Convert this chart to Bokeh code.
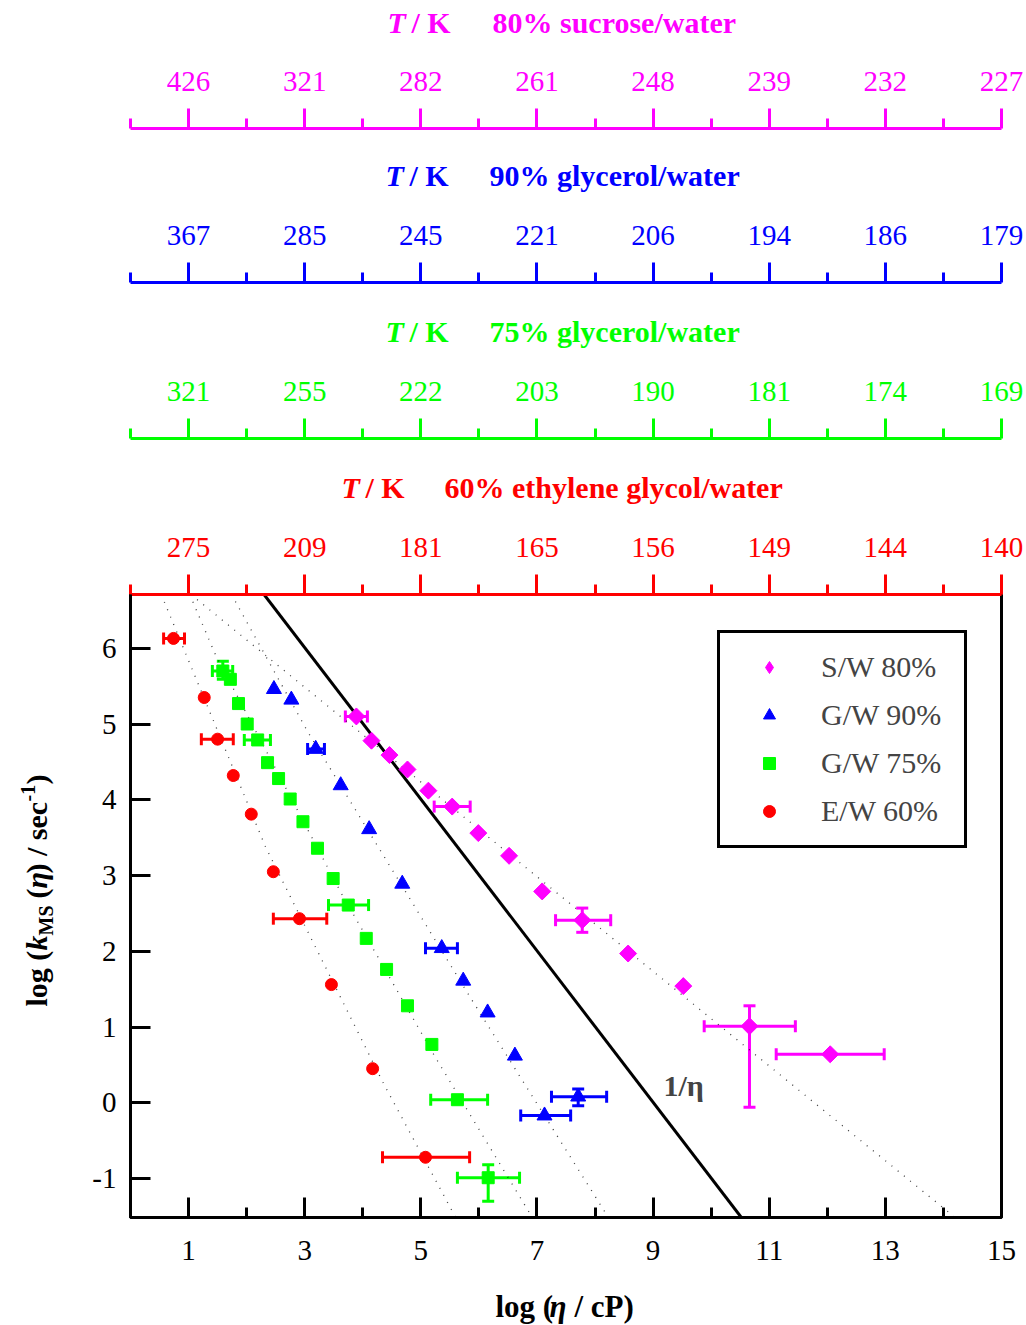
import numpy as np
from bokeh.plotting import figure
from bokeh.models import (Range1d, LinearAxis, FixedTicker, Whisker, TeeHead,
                          ColumnDataSource, Label, Legend, LegendItem)
from bokeh.layouts import column, row
from bokeh.embed import file_html
from bokeh.resources import INLINE

FONT = "Liberation Serif"
MAGENTA, BLUE, GREEN, RED = "#FF00FF", "#0000FF", "#00FF00", "#FF0000"

# ---------------- data ----------------
x_major = [1, 3, 5, 7, 9, 11, 13, 15]
x_minor = [0, 2, 4, 6, 8, 10, 12, 14]
y_major = [-1, 0, 1, 2, 3, 4, 5, 6]

t_sucrose80 = ["426", "321", "282", "261", "248", "239", "232", "227"]
t_glycerol90 = ["367", "285", "245", "221", "206", "194", "186", "179"]
t_glycerol75 = ["321", "255", "222", "203", "190", "181", "174", "169"]
t_ethylene60 = ["275", "209", "181", "165", "156", "149", "144", "140"]

# S/W 80%
sw_x = [3.89, 4.15, 4.46, 4.77, 5.13, 5.54, 5.99, 6.52, 7.09, 7.78, 8.57, 9.52, 10.66, 12.05]
sw_y = [5.10, 4.78, 4.59, 4.40, 4.12, 3.91, 3.56, 3.26, 2.79, 2.41, 1.97, 1.54, 1.01, 0.64]
sw_xerr_i = [0, 5, 9, 12, 13]
sw_xerr_lo = [3.70, 5.23, 7.32, 9.88, 11.12]
sw_xerr_hi = [4.08, 5.85, 8.27, 11.45, 12.98]
sw_yerr_i = [9, 12]
sw_yerr_lo = [2.25, -0.06]
sw_yerr_hi = [2.57, 1.28]

# G/W 90%
gw90_x = [2.47, 2.77, 3.19, 3.62, 4.11, 4.68, 5.36, 5.73, 6.15, 6.62, 7.71, 7.13]
gw90_y = [5.46, 5.32, 4.67, 4.19, 3.61, 2.89, 2.04, 1.61, 1.19, 0.62, 0.08, -0.17]
gw90_xerr_i = [2, 6, 10, 11]
gw90_xerr_lo = [3.05, 5.08, 7.25, 6.72]
gw90_xerr_hi = [3.34, 5.63, 8.20, 7.58]
gw90_yerr_i = [10]
gw90_yerr_lo = [-0.04]
gw90_yerr_hi = [0.18]

# G/W 75%
gw75_x = [1.59, 1.72, 1.86, 2.01, 2.19, 2.36, 2.55, 2.75, 2.97, 3.22, 3.49, 3.75, 4.06, 4.41, 4.77, 5.19, 5.63, 6.16]
gw75_y = [5.70, 5.59, 5.27, 5.00, 4.79, 4.49, 4.28, 4.01, 3.71, 3.36, 2.96, 2.61, 2.17, 1.76, 1.28, 0.77, 0.04, -0.99]
gw75_xerr_i = [0, 4, 11, 16, 17]
gw75_xerr_lo = [1.41, 1.96, 3.41, 5.17, 5.63]
gw75_xerr_hi = [1.76, 2.41, 4.10, 6.15, 6.70]
gw75_yerr_i = [0, 17]
gw75_yerr_lo = [5.59, -1.30]
gw75_yerr_hi = [5.83, -0.82]

# E/W 60%
ew_x = [0.74, 1.27, 1.50, 1.77, 2.08, 2.46, 2.91, 3.46, 4.17, 5.08]
ew_y = [6.13, 5.35, 4.80, 4.32, 3.81, 3.05, 2.43, 1.56, 0.45, -0.72]
ew_xerr_i = [0, 2, 6, 9]
ew_xerr_lo = [0.57, 1.22, 2.46, 4.34]
ew_xerr_hi = [0.93, 1.77, 3.38, 5.84]

# dotted fit curves
fit_ew_x = [0.53, 2.33, 4.36, 5.60]
fit_ew_y = [6.71, 3.37, 0.25, -1.515]
fit_gw75_x = [1.02, 1.46, 3.62, 5.25, 6.92]
fit_gw75_y = [6.71, 5.92, 2.78, 0.60, -1.515]
fit_gw90_x = [1.74, 3.05, 5.86, 8.23]
fit_gw90_y = [6.71, 4.90, 1.38, -1.515]
fit_sw_x = [1.04, 14.2]
fit_sw_y = [6.71, -1.515]
# 1/eta line
inv_x = [2.30, 10.52]
inv_y = [6.71, -1.515]

# ---------------- layout constants (page pixels) ----------------
W = 1026
LEFT, RIGHT = 130, 25
X0, X1 = 0.0, 15.0
Y0, Y1 = -1.515, 6.71
FRAME_W = W - LEFT - RIGHT          # 871
FRAME_TOP, FRAME_BOT = 594, 1217
FRAME_H = FRAME_BOT - FRAME_TOP     # 623
YL_W = 60


def mx(px):
    return X0 + (px - LEFT) * (X1 - X0) / FRAME_W


def my(py):
    return Y1 - (py - FRAME_TOP) * (Y1 - Y0) / FRAME_H


def bare(width, height, xr, yr, **kw):
    f = figure(width=width, height=height, x_range=xr, y_range=yr,
               x_axis_location=None, y_axis_location=None, toolbar_location=None,
               output_backend="svg", outline_line_color=None, **kw)
    f.grid.visible = False
    return f


def style_top_axis(ax, color, labels):
    ax.ticker = FixedTicker(ticks=x_major, minor_ticks=x_minor)
    ax.major_label_overrides = {t: s for t, s in zip(x_major, labels)}
    ax.axis_line_color = color
    ax.axis_line_width = 3
    ax.major_tick_line_color = color
    ax.minor_tick_line_color = color
    ax.major_tick_line_width = 3
    ax.minor_tick_line_width = 3
    ax.major_tick_in = 0
    ax.major_tick_out = 20
    ax.minor_tick_in = 0
    ax.minor_tick_out = 10
    ax.major_label_standoff = 18
    ax.major_label_text_font = FONT
    ax.major_label_text_font_size = "29px"
    ax.major_label_text_color = color


def add_title(fig, color, x_t, x_sl, x_rest, y, rest):
    common = dict(text_font=FONT, text_font_size="30px", text_color=color,
                  text_align="left", text_baseline="alphabetic")
    fig.add_layout(Label(x=mx(x_t), y=y, text="T", text_font_style="bold italic", **common))
    fig.add_layout(Label(x=mx(x_sl), y=y, text="/ K", text_font_style="bold", **common))
    fig.add_layout(Label(x=mx(x_rest), y=y, text=rest, text_font_style="bold", **common))


# strip 0: magenta title only (page y 0..50)
f0 = bare(W, 50, Range1d(X0, X1), Range1d(0, 50), min_border_left=LEFT, min_border_right=RIGHT,
          min_border_top=0, min_border_bottom=0)
add_title(f0, MAGENTA, 387, 411, 492, 50 - 22, "80% sucrose/water")


def strip(top, axis_y, frame_bot, color, labels, title):
    f = bare(W, frame_bot - top, Range1d(X0, X1), Range1d(0, frame_bot - axis_y),
             min_border_left=LEFT, min_border_right=RIGHT,
             min_border_top=axis_y - top, min_border_bottom=0)
    ax = LinearAxis()
    style_top_axis(ax, color, labels)
    f.add_layout(ax, "above")
    if title:
        tcol, x_t, x_sl, x_rest, base, rest = title
        add_title(f, tcol, x_t, x_sl, x_rest, frame_bot - base, rest)
    return f


f1 = strip(50, 128, 210, MAGENTA, t_sucrose80, (BLUE, 385, 409, 489, 175, "90% glycerol/water"))
f2 = strip(210, 282, 366, BLUE, t_glycerol90, (GREEN, 385, 409, 489, 331, "75% glycerol/water"))
f3 = strip(366, 438, 522, GREEN, t_glycerol75, (RED, 341, 365, 444, 487, "60% ethylene glycol/water"))

# ---------------- main figure ----------------
MAIN_TOP_PAGE = 522
MAIN_BOT_PAGE = 1280
p = figure(width=W - YL_W, height=MAIN_BOT_PAGE - MAIN_TOP_PAGE,
           x_range=Range1d(X0, X1), y_range=Range1d(Y0, Y1),
           toolbar_location=None, output_backend="svg",
           min_border_left=LEFT - YL_W, min_border_right=RIGHT,
           min_border_top=FRAME_TOP - MAIN_TOP_PAGE, min_border_bottom=MAIN_BOT_PAGE - FRAME_BOT)
p.grid.visible = False
p.outline_line_color = "black"
p.outline_line_width = 3

xa = p.xaxis[0]
xa.ticker = FixedTicker(ticks=x_major, minor_ticks=x_minor)
ya = p.yaxis[0]
ya.ticker = FixedTicker(ticks=y_major, minor_ticks=[])
ya.major_label_overrides = {v: ("%d" % v) for v in y_major}
for ax in (xa, ya):
    ax.axis_line_color = "black"
    ax.axis_line_width = 3
    ax.major_tick_line_color = "black"
    ax.minor_tick_line_color = "black"
    ax.major_tick_line_width = 3
    ax.minor_tick_line_width = 3
    ax.major_tick_in = 20
    ax.major_tick_out = 0
    ax.minor_tick_in = 10
    ax.minor_tick_out = 0
    ax.major_label_text_font = FONT
    ax.major_label_text_font_size = "29px"
    ax.major_label_text_color = "black"
xa.major_label_standoff = 23
ya.major_label_standoff = 14

red_ax = LinearAxis()
style_top_axis(red_ax, RED, t_ethylene60)
p.add_layout(red_ax, "above")

# fit lines
for fx, fy in ((fit_ew_x, fit_ew_y), (fit_gw75_x, fit_gw75_y),
               (fit_gw90_x, fit_gw90_y), (fit_sw_x, fit_sw_y)):
    p.line(fx, fy, line_color="black", line_width=1.3, line_alpha=0.75, line_dash="1 7")
p.line(inv_x, inv_y, line_color="black", line_width=3)


def whiskers(color, xs, ys, xi, xlo, xhi, yi=None, ylo=None, yhi=None):
    src = ColumnDataSource(dict(b=[ys[i] for i in xi], lo=xlo, hi=xhi))
    p.add_layout(Whisker(source=src, base="b", lower="lo", upper="hi", dimension="width",
                         line_color=color, line_width=3,
                         upper_head=TeeHead(size=12, line_color=color, line_width=3),
                         lower_head=TeeHead(size=12, line_color=color, line_width=3)))
    if yi:
        src2 = ColumnDataSource(dict(b=[xs[i] for i in yi], lo=ylo, hi=yhi))
        p.add_layout(Whisker(source=src2, base="b", lower="lo", upper="hi", dimension="height",
                             line_color=color, line_width=3,
                             upper_head=TeeHead(size=12, line_color=color, line_width=3),
                             lower_head=TeeHead(size=12, line_color=color, line_width=3)))


whiskers(MAGENTA, sw_x, sw_y, sw_xerr_i, sw_xerr_lo, sw_xerr_hi, sw_yerr_i, sw_yerr_lo, sw_yerr_hi)
whiskers(BLUE, gw90_x, gw90_y, gw90_xerr_i, gw90_xerr_lo, gw90_xerr_hi, gw90_yerr_i, gw90_yerr_lo, gw90_yerr_hi)
whiskers(GREEN, gw75_x, gw75_y, gw75_xerr_i, gw75_xerr_lo, gw75_xerr_hi, gw75_yerr_i, gw75_yerr_lo, gw75_yerr_hi)
whiskers(RED, ew_x, ew_y, ew_xerr_i, ew_xerr_lo, ew_xerr_hi)

# diamond-shaped key for the legend (same points, hidden under the rotated squares,
# because the legend does not rotate markers)
r_sw_key = p.scatter(sw_x, sw_y, marker="diamond", size=15, color=MAGENTA)
r_sw = p.scatter(sw_x, sw_y, marker="square", angle=np.pi / 4, size=12, color=MAGENTA)
r_g90 = p.scatter(gw90_x, gw90_y, marker="triangle", size=15, color=BLUE)
r_g75 = p.scatter(gw75_x, gw75_y, marker="square", size=12, color=GREEN)
r_ew = p.scatter(ew_x, ew_y, marker="circle", size=12, color=RED)

legend = Legend(items=[LegendItem(label="S/W 80%", renderers=[r_sw_key]),
                       LegendItem(label="G/W 90%", renderers=[r_g90]),
                       LegendItem(label="G/W 75%", renderers=[r_g75]),
                       LegendItem(label="E/W 60%", renderers=[r_ew])],
                location=(587, 369), margin=0, padding=17, spacing=14,
                glyph_width=64, glyph_height=30, label_height=30, label_standoff=20,
                label_width=126,
                label_text_font=FONT, label_text_font_size="30px",
                border_line_color="black", border_line_width=3, border_line_alpha=1.0,
                background_fill_color="white", background_fill_alpha=1.0)
p.add_layout(legend)

p.add_layout(Label(x=mx(663), y=my(1085), text="1/η", text_font=FONT, text_font_size="30px",
                   text_font_style="bold", text_align="left", text_baseline="alphabetic"))

# ---------------- y axis label (own strip, page pixel coordinates) ----------------
yl = bare(YL_W, MAIN_BOT_PAGE - MAIN_TOP_PAGE, Range1d(0, YL_W), Range1d(0, FRAME_H),
          min_border_left=0, min_border_right=0,
          min_border_top=FRAME_TOP - MAIN_TOP_PAGE, min_border_bottom=MAIN_BOT_PAGE - FRAME_BOT)
rot = dict(angle=np.pi / 2, text_font=FONT, text_color="black",
           text_align="left", text_baseline="alphabetic")


def yy(py):
    return FRAME_BOT - py


BX = 36
yl.add_layout(Label(x=BX, y=yy(1006), text="log (", text_font_size="30px", text_font_style="bold", **rot))
yl.add_layout(Label(x=BX, y=yy(950), text="k", text_font_size="30px", text_font_style="bold italic", **rot))
yl.add_layout(Label(x=BX + 9, y=yy(935), text="MS", text_font_size="20px", text_font_style="bold", **rot))
yl.add_layout(Label(x=BX, y=yy(898), text="(", text_font_size="30px", text_font_style="bold", **rot))
yl.add_layout(Label(x=BX, y=yy(888), text="η", text_font_size="30px", text_font_style="bold italic", **rot))
yl.add_layout(Label(x=BX, y=yy(873), text=") / sec", text_font_size="30px", text_font_style="bold", **rot))
yl.add_layout(Label(x=BX - 9, y=yy(801), text="-1", text_font_size="20px", text_font_style="bold", **rot))
yl.add_layout(Label(x=BX, y=yy(784), text=")", text_font_size="30px", text_font_style="bold", **rot))

# ---------------- x axis label (own strip) ----------------
XL_H = 44
xl = bare(W, XL_H, Range1d(X0, X1), Range1d(0, XL_H), min_border_left=LEFT, min_border_right=RIGHT,
          min_border_top=0, min_border_bottom=0)
lab = dict(text_font=FONT, text_font_size="31px", text_color="black",
           text_align="left", text_baseline="alphabetic")
xb = MAIN_BOT_PAGE + XL_H - 1306
xl.add_layout(Label(x=mx(495), y=xb, text="log (", text_font_style="bold", **lab))
xl.add_layout(Label(x=mx(549), y=xb, text="η", text_font_style="bold italic", **lab))
xl.add_layout(Label(x=mx(574), y=xb, text="/ cP)", text_font_style="bold", **lab))

layout = column(f0, f1, f2, f3, row(yl, p, spacing=0), xl, spacing=0)
open("out.html", "w").write(file_html(layout, INLINE))
